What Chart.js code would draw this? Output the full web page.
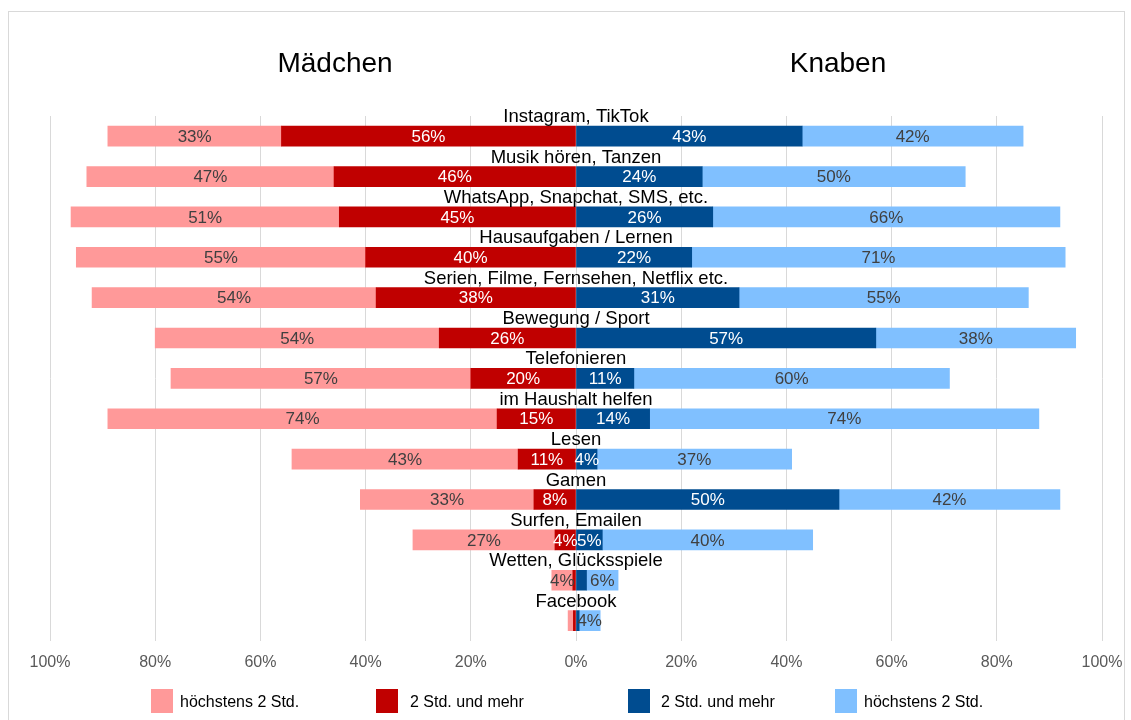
<!DOCTYPE html>
<html>
<head>
<meta charset="utf-8">
<script src="https://cdn.jsdelivr.net/npm/chart.js@4"></script>
<style>
  body { margin: 0; background: #fff; font-family: 'Liberation Sans', Arial, sans-serif; }
  #wrap { position: relative; width: 1131px; height: 720px; overflow: hidden; }
  #frame { position: absolute; left: 8px; top: 11px; width: 1115px; height: 740px; border: 1px solid #d9d9d9; }
  canvas { position: absolute; left: 0; top: 0; }
  .title { position: absolute; top: 49px; width: 240px; text-align: center; font-size: 28px; line-height: 28px; color: #000; }
  .sw { position: absolute; top: 689px; width: 22px; height: 24px; }
  .lt { position: absolute; top: 692px; font-size: 16px; line-height: 20px; color: #000; }
</style>
</head>
<body>
<div id="wrap">
  <div id="frame"></div>
  <canvas id="chart" width="1131" height="720"></canvas>
  <div class="title" style="left:215px">Mädchen</div>
  <div class="title" style="left:718px">Knaben</div>
  <div id="legend"></div>
</div>
<script>
// Kategorien und Werte (in %)
const categories = ['Instagram, TikTok', 'Musik hören, Tanzen', 'WhatsApp, Snapchat, SMS, etc.',
  'Hausaufgaben / Lernen', 'Serien, Filme, Fernsehen, Netflix etc.', 'Bewegung / Sport',
  'Telefonieren', 'im Haushalt helfen', 'Lesen', 'Gamen', 'Surfen, Emailen',
  'Wetten, Glücksspiele', 'Facebook'];
const maedchenWenig = [33, 47, 51, 55, 54, 54, 57, 74, 43, 33, 27, 4, 1];
const maedchenViel = [56, 46, 45, 40, 38, 26, 20, 15, 11, 8, 4, 0.6, 0.5];
const knabenViel = [43, 24, 26, 22, 31, 57, 11, 14, 4, 50, 5, 2, 0.6];
const knabenWenig = [42, 50, 66, 71, 55, 38, 60, 74, 37, 42, 40, 6, 4];
const tickValues = [-100, -80, -60, -40, -20, 0, 20, 40, 60, 80, 100];

const colors = {
  pink: '#FF9999',
  red: '#C00000',
  blue: '#004C90',
  light: '#80C0FF'
};

// Legende (HTML, eigene Reihenfolge)
const legendItems = [
  { text: 'höchstens 2 Std.', color: colors.pink, x: 151, tx: 180 },
  { text: '2 Std. und mehr', color: colors.red, x: 376, tx: 410 },
  { text: '2 Std. und mehr', color: colors.blue, x: 628, tx: 661 },
  { text: 'höchstens 2 Std.', color: colors.light, x: 835, tx: 864 }
];
const legend = document.getElementById('legend');
legendItems.forEach(item => {
  const sw = document.createElement('div');
  sw.className = 'sw';
  sw.style.left = item.x + 'px';
  sw.style.background = item.color;
  legend.appendChild(sw);
  const lt = document.createElement('div');
  lt.className = 'lt';
  lt.style.left = item.tx + 'px';
  lt.textContent = item.text;
  legend.appendChild(lt);
});

Chart.defaults.font.family = "'Liberation Sans', Arial, sans-serif";

// Beschriftungen: Werte in den Balken, Kategorien darüber
const labelPlugin = {
  id: 'barLabels',
  afterDatasetsDraw(chart) {
    const ctx = chart.ctx;
    const x0 = chart.scales.x.getPixelForValue(0);
    ctx.save();
    ctx.textAlign = 'center';
    ctx.textBaseline = 'middle';
    ctx.font = "17px 'Liberation Sans', Arial, sans-serif";
    chart.data.datasets.forEach((ds, di) => {
      const meta = chart.getDatasetMeta(di);
      meta.data.forEach((bar, i) => {
        const v = Math.abs(ds.data[i]);
        if (v < 3.5) return;
        ctx.fillStyle = ds.labelColor;
        ctx.fillText(Math.round(v) + '%', (bar.x + bar.base) / 2, bar.y + 1);
      });
    });
    ctx.textBaseline = 'alphabetic';
    ctx.fillStyle = '#000';
    ctx.font = "18.5px 'Liberation Sans', Arial, sans-serif";
    const meta = chart.getDatasetMeta(0);
    categories.forEach((c, i) => {
      const bar = meta.data[i];
      ctx.fillText(c, x0, bar.y - bar.height / 2 - 4);
    });
    ctx.restore();
  }
};

new Chart(document.getElementById('chart'), {
  type: 'bar',
  data: {
    labels: categories,
    datasets: [
      { label: '2 Std. und mehr', data: maedchenViel.map(v => -v), backgroundColor: colors.red, labelColor: '#fff' },
      { label: 'höchstens 2 Std.', data: maedchenWenig.map(v => -v), backgroundColor: colors.pink, labelColor: '#404040' },
      { label: '2 Std. und mehr', data: knabenViel, backgroundColor: colors.blue, labelColor: '#fff' },
      { label: 'höchstens 2 Std.', data: knabenWenig, backgroundColor: colors.light, labelColor: '#404040' }
    ]
  },
  options: {
    indexAxis: 'y',
    responsive: false,
    animation: false,
    barThickness: 20,
    layout: { padding: { left: 50, right: 29, top: 116, bottom: 36 } },
    scales: {
      x: {
        stacked: true,
        min: -100,
        max: 100,
        afterBuildTicks: axis => { axis.ticks = tickValues.map(v => ({ value: v })); },
        afterFit: axis => { axis.paddingLeft = 0; axis.paddingRight = 0; },
        ticks: {
          callback: v => Math.abs(v) + '%',
          color: '#595959',
          font: { size: 16 },
          padding: 12
        },
        grid: { color: '#d9d9d9', drawTicks: false },
        border: { display: false }
      },
      y: {
        stacked: true,
        display: false
      }
    },
    plugins: {
      legend: { display: false },
      tooltip: { enabled: false }
    }
  },
  plugins: [labelPlugin]
});
</script>
</body>
</html>
